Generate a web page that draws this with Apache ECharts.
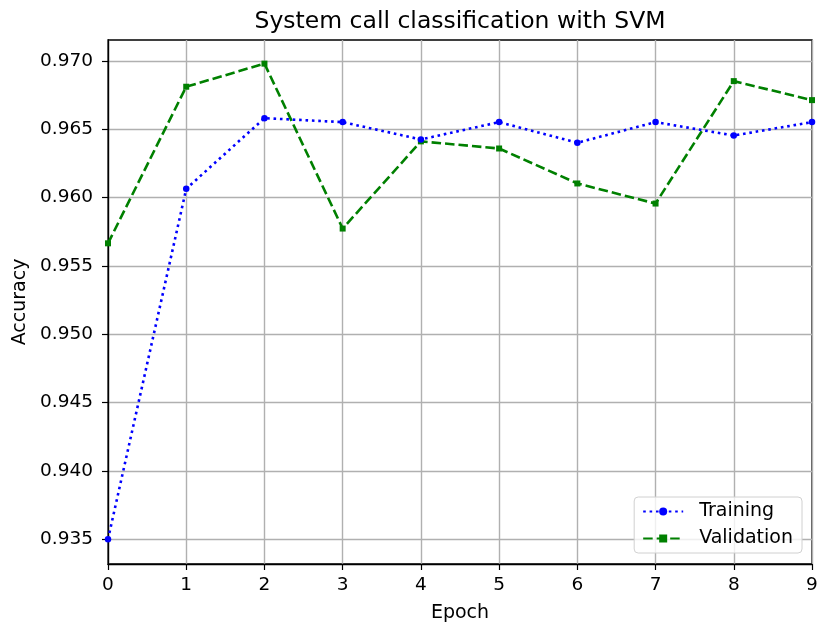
<!DOCTYPE html>
<html>
<head>
<meta charset="utf-8">
<script src="https://cdn.jsdelivr.net/npm/echarts@6/dist/echarts.min.js"></script>
<style>
  html, body { margin: 0; padding: 0; background: #fff; }
  #chart { width: 818px; height: 626px; }
</style>
</head>
<body>
<div id="chart"></div>
<script>
const epochs = [0, 1, 2, 3, 4, 5, 6, 7, 8, 9];
const training = [0.9350, 0.96065, 0.96582, 0.96553, 0.96426, 0.96553, 0.96402, 0.96553, 0.96455, 0.96553];
const validation = [0.95666, 0.96812, 0.96981, 0.95774, 0.96412, 0.9636, 0.96104, 0.95957, 0.96853, 0.96714];
const yTicks = [0.935, 0.940, 0.945, 0.950, 0.955, 0.960, 0.965, 0.970];

const font = "DejaVu Sans";

const chart = echarts.init(document.getElementById("chart"));

chart.setOption({
  animation: false,
  textStyle: { fontFamily: font },
  title: {
    text: "System call classification with SVM",
    left: 455,
    top: 5,
    textAlign: "center",
    textStyle: { fontFamily: font, fontSize: 23.5, fontWeight: "normal", color: "#000" },
  },
  grid: {
    left: 108,
    right: 6,
    top: 40,
    bottom: 62,
    outerBoundsMode: "none",
    show: true,
    borderColor: "#000",
    borderWidth: 1.3,
    backgroundColor: "transparent",
  },
  legend: {
    right: 16,
    bottom: 73,
    orient: "vertical",
    itemWidth: 40,
    itemHeight: 10,
    itemGap: 8,
    padding: [5, 9, 5, 8],
    borderColor: "#d0d0d0",
    borderWidth: 1,
    borderRadius: 4,
    backgroundColor: "rgba(255,255,255,0.8)",
    textStyle: { fontFamily: font, fontSize: 19, color: "#000", padding: [0, 0, 0, 11] },
    data: ["Training", "Validation"],
  },
  xAxis: {
    type: "value",
    min: 0,
    max: 9,
    interval: 1,
    name: "Epoch",
    nameLocation: "middle",
    nameGap: 40,
    nameTextStyle: { fontFamily: font, fontSize: 19, color: "#000" },
    axisLine: { show: true, lineStyle: { color: "#000", width: 1.3 } },
    axisTick: { show: true, inside: false, length: 6, lineStyle: { color: "#000", width: 1.2 } },
    axisLabel: { fontFamily: font, fontSize: 18.5, color: "#000", margin: 12 },
    splitLine: { show: true, lineStyle: { color: "#b0b0b0", width: 1.4 } },
  },
  yAxis: {
    type: "value",
    min: 0.93319,
    max: 0.97154,
    name: "Accuracy",
    nameLocation: "middle",
    nameGap: 78,
    nameRotate: 90,
    nameTextStyle: { fontFamily: font, fontSize: 19, color: "#000" },
    axisLine: { show: true, lineStyle: { color: "#000", width: 1.3 } },
    axisTick: { show: true, inside: false, length: 6, customValues: yTicks, lineStyle: { color: "#000", width: 1.2 } },
    axisLabel: {
      fontFamily: font,
      fontSize: 18.5,
      color: "#000",
      margin: 15,
      customValues: yTicks,
      formatter: (v) => v.toFixed(3),
    },
    splitLine: { show: true, lineStyle: { color: "#b0b0b0", width: 1.4 } },
  },
  series: [
    {
      name: "Training",
      type: "line",
      data: epochs.map((e, i) => [e, training[i]]),
      symbol: "circle",
      symbolSize: 6.5,
      itemStyle: { color: "#0000ff" },
      lineStyle: { color: "#0000ff", width: 2.6, type: [2.6, 3.8] },
      z: 3,
    },
    {
      name: "Validation",
      type: "line",
      data: epochs.map((e, i) => [e, validation[i]]),
      symbol: "rect",
      symbolSize: 6,
      itemStyle: { color: "#008000" },
      lineStyle: { color: "#008000", width: 2.6, type: [9.5, 4] },
      z: 2,
    },
  ],
});
</script>
</body>
</html>
